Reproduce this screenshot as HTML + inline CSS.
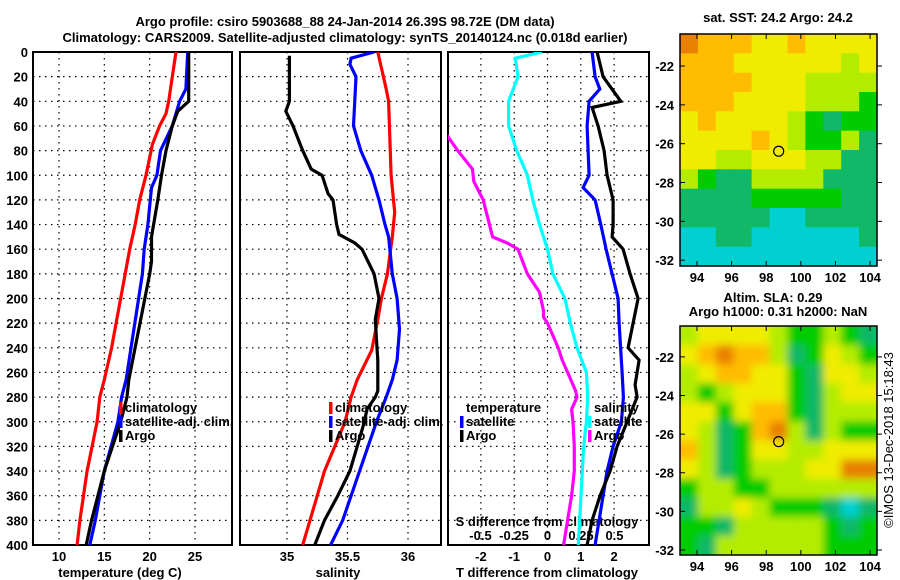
<!DOCTYPE html>
<html><head><meta charset="utf-8"><style>
body{margin:0;background:#fff}
svg{display:block}
text{font-family:"Liberation Sans",sans-serif;font-weight:bold;font-size:13px;fill:#000}
</style></head><body>
<svg id="c" width="900" height="580" xmlns="http://www.w3.org/2000/svg">
<defs>
<clipPath id="cp1"><rect x="33" y="52" width="199" height="493"/></clipPath>
<clipPath id="cp2"><rect x="240" y="52" width="201" height="493"/></clipPath>
<clipPath id="cp3"><rect x="448" y="52" width="201" height="493"/></clipPath>
<clipPath id="cpm2"><rect x="680" y="326" width="197" height="229"/></clipPath>
<filter id="blur"><feGaussianBlur stdDeviation="4"/></filter>
</defs>
<text x="345" y="26" text-anchor="middle" font-size="14">Argo profile: csiro 5903688_88 24-Jan-2014 26.39S 98.72E (DM data)</text>
<text x="345" y="42" text-anchor="middle" font-size="14">Climatology: CARS2009. Satellite-adjusted climatology: synTS_20140124.nc (0.018d earlier)</text>
<text x="778" y="22" text-anchor="middle">sat. SST: 24.2 Argo: 24.2</text>
<text x="773" y="302" text-anchor="middle">Altim. SLA: 0.29</text>
<text x="778" y="316" text-anchor="middle">Argo h1000: 0.31 h2000: NaN</text>
<text transform="translate(893,440) rotate(-90)" text-anchor="middle" font-size="12" style="font-weight:normal">©IMOS 13-Dec-2018 15:18:43</text>
<text x="120" y="577" text-anchor="middle">temperature (deg C)</text>
<text x="338" y="577" text-anchor="middle">salinity</text>
<text x="547" y="577" text-anchor="middle">T difference from climatology</text>
<text x="547" y="526" text-anchor="middle">S difference from climatology</text>
<g id="g"></g>
</svg>
<script>
// ---- data ----
const depthTicks=[0,20,40,60,80,100,120,140,160,180,200,220,240,260,280,300,320,340,360,380,400];
const tTicks=[10,15,20,25];
const sTicks=[35,35.5,36];
const dTTicks=[-2,-1,0,1,2];
const dSTicks=[-0.5,-0.25,0,0.25,0.5];
const dSTickLabels=["-0.5","-0.25","0","0.25","0.5"];
const tClimD=[0,20,40,50,60,75,100,120,140,160,180,220,240,266,280,300,340,380,400];
const tClimV=[22.9,22.5,22.1,21.8,21.1,20.3,19.6,18.9,18.4,17.8,17.3,16.3,15.8,15.0,14.5,14.2,13.1,12.3,12.0];
const tSatD=[0,30,40,60,80,100,110,140,160,180,266,280,300,340,380,400];
const tSatV=[24.2,24.0,23.3,22.5,21.2,20.8,20.2,19.8,19.4,19.2,17.4,16.9,16.5,15.0,14.0,13.4];
const tArgoD=[0,40,48,60,80,100,120,150,170,180,266,280,300,340,380,400];
const tArgoV=[24.3,24.3,23.1,22.5,21.8,21.3,20.9,20.2,20.2,20.0,17.7,17.5,16.8,15.0,13.6,13.0];
const sClimD=[0,30,40,100,130,150,180,200,217,242,266,280,300,340,380,400];
const sClimV=[35.75,35.82,35.84,35.86,35.89,35.87,35.83,35.78,35.75,35.70,35.58,35.53,35.48,35.31,35.19,35.13];
const sSatD=[0,5,10,20,60,80,100,120,140,150,180,200,225,250,266,280,300,340,380,400];
const sSatV=[35.72,35.53,35.52,35.57,35.55,35.61,35.70,35.76,35.81,35.84,35.87,35.91,35.93,35.91,35.87,35.82,35.74,35.60,35.46,35.36];
const sArgoD=[3,40,48,60,80,95,100,115,120,140,148,155,160,180,200,217,234,250,266,275,280,290,300,320,340,360,380,400];
const sArgoV=[35.02,35.02,34.99,35.05,35.13,35.20,35.29,35.34,35.38,35.41,35.43,35.56,35.62,35.72,35.76,35.73,35.74,35.75,35.75,35.75,35.73,35.66,35.64,35.58,35.52,35.42,35.31,35.23];
const dTSatD=[0,20,30,40,60,100,110,120,140,160,180,200,220,260,280,300,320,340,360,380,400];
const dTSatV=[1.34,1.43,1.57,1.25,1.19,1.25,1.07,1.43,1.6,1.76,1.94,2.12,2.15,2.24,2.28,2.22,1.97,1.79,1.67,1.55,1.43];
const dTArgoD=[0,20,40,45,60,80,100,120,140,150,160,180,200,220,240,250,270,280,300,320,340,360,380,400];
const dTArgoV=[1.49,1.67,2.2,1.34,1.52,1.7,1.79,1.97,1.97,1.94,2.27,2.48,2.72,2.57,2.42,2.75,2.63,2.69,2.39,2.09,1.88,1.58,1.34,1.19];
const dSSatD=[0,5,20,40,60,80,100,120,140,160,180,200,220,240,260,280,300,320,340,360,380,400];
const dSSatV=[-0.04,-0.24,-0.22,-0.29,-0.29,-0.23,-0.15,-0.11,-0.06,0,0.04,0.13,0.17,0.22,0.29,0.30,0.29,0.27,0.26,0.25,0.24,0.23];
const dSArgoD=[60,80,95,105,120,150,155,160,180,195,210,215,220,240,250,260,275,280,290,300,320,340,360,380,400];
const dSArgoV=[-0.8,-0.67,-0.56,-0.55,-0.48,-0.41,-0.30,-0.22,-0.15,-0.06,-0.03,-0.03,0,0.08,0.11,0.15,0.21,0.22,0.18,0.19,0.20,0.20,0.18,0.15,0.12];
const sstGrid=[
[6,5,5,5,4,4,5,4,4,4,4],
[5,5,5,4,4,4,4,4,4,3,4],
[5,5,5,5,4,4,4,3,3,3,3],
[5,5,5,4,4,4,4,3,3,3,2],
[4,5,4,4,4,4,3,2,1,2,2],
[4,4,4,4,5,4,3,2,2,3,1],
[4,4,3,3,4,4,4,3,3,1,1],
[3,2,1,1,3,3,3,3,1,1,1],
[1,1,1,1,2,2,2,2,2,1,1],
[1,1,1,1,1,0,0,1,1,1,1],
[0,0,1,1,0,0,0,0,0,0,1],
[0,0,0,0,0,0,0,0,0,0,0]];
const slaGrid=[
[3,4,4,4,4,3,2,2,3,2,1],
[4,5,6,5,5,3,1,2,4,3,2],
[3,4,5,5,4,4,2,1,4,4,3],
[3,2,3,4,4,4,2,1,3,4,4],
[4,4,2,4,5,5,2,1,3,3,3],
[4,3,1,2,5,6,3,1,3,2,2],
[5,3,1,2,4,4,3,3,4,4,4],
[4,3,1,2,3,3,3,4,4,6,6],
[2,3,3,2,2,3,3,3,3,3,3],
[1,3,3,4,3,2,2,2,1,0,1],
[2,2,1,3,3,3,3,3,2,1,2],
[2,1,3,3,3,3,3,3,2,2,2]];
const lonTicks=[94,96,98,100,102,104];
const latTicks=[-22,-24,-26,-28,-30,-32];
const argoLon=98.72, argoLat=-26.39;
// ---- scales ----
const yD=d=>52+d*(493/400);
const xT=v=>59+(v-10)*(136/15);
const xS=v=>287+(v-35)*121;
const xDT=v=>547.5+v*33.3;
const xDS=v=>547.5+v*134;
const colors=["#00d0d0","#10b868","#00cc00","#b4ec00","#f0ec00","#ffbc00","#e88000"];
const NS="http://www.w3.org/2000/svg";
const G=document.getElementById('g');
function mk(tag,attrs,parent){const e=document.createElementNS(NS,tag);for(const k in attrs)e.setAttribute(k,attrs[k]);(parent||G).appendChild(e);return e;}
function txt(x,y,s,anchor,parent){const t=mk('text',{x:x,y:y,'text-anchor':anchor||'middle'},parent);t.textContent=s;return t;}
function panel(x0,x1,name,xs,ticks,labels){
  const p=mk('g',{});
  
  
  depthTicks.forEach(d=>{
    const l=mk('line',{x1:x0,x2:x1,y1:yD(d),y2:yD(d),stroke:'#000','stroke-dasharray':'1.5,4.5','stroke-width':1.2},p);
    
    
  });
  ticks.forEach((v,i)=>{
    const x=xs(v);
    const l=mk('line',{x1:x,x2:x,y1:52,y2:545,stroke:'#000','stroke-dasharray':'1.5,4.5','stroke-width':1.2},p);
    
    
    if(labels){const t=txt(x,561,labels[i],'middle',p);
      
      }
  });
  const r=mk('rect',{x:x0,y:52,width:x1-x0,height:493,fill:'none',stroke:'#000','stroke-width':2},p);
  
  
  return p;
}
function line(D,V,xs,color,clip,name){
  const pts=D.map((d,i)=>xs(V[i]).toFixed(1)+','+yD(d).toFixed(1)).join(' ');
  const l=mk('polyline',{points:pts,fill:'none',stroke:color,'stroke-width':3.2,'clip-path':'url(#'+clip+')'});
  
  
}
panel(33,232,'temperature-panel',xT,tTicks,tTicks.map(String));
panel(240,441,'salinity-panel',xS,sTicks,sTicks.map(String));
panel(448,649,'difference-panel',xDT,dTTicks,dTTicks.map(String));
dSTicks.forEach((v,i)=>{const t=txt(xDS(v),540,dSTickLabels[i]);
  
  });
depthTicks.forEach(d=>{const t=txt(28,yD(d)+5,String(d),'end');
  
  });
line(tClimD,tClimV,xT,'#ff0000','cp1','temperature-climatology-line');
line(tSatD,tSatV,xT,'#0000ff','cp1','temperature-satellite-line');
line(tArgoD,tArgoV,xT,'#000000','cp1','temperature-argo-line');
line(sClimD,sClimV,xS,'#ff0000','cp2','salinity-climatology-line');
line(sSatD,sSatV,xS,'#0000ff','cp2','salinity-satellite-line');
line(sArgoD,sArgoV,xS,'#000000','cp2','salinity-argo-line');
line(dSArgoD,dSArgoV,xDS,'#ff00ff','cp3','s-diff-argo-line');
line(dSSatD,dSSatV,xDS,'#00ffff','cp3','s-diff-satellite-line');
line(dTSatD,dTSatV,xDT,'#0000ff','cp3','t-diff-satellite-line');
line(dTArgoD,dTArgoV,xDT,'#000000','cp3','t-diff-argo-line');
function legend(x,y,items,name){
  const g=mk('g',{});
  
  
  items.forEach((it,i)=>{
    if(it[0]) mk('rect',{x:x,y:y+i*14-10,width:3.5,height:12,fill:it[0]},g);
    txt(x+6,y+i*14,it[1],'start',g);
  });
}
legend(119,412,[['#ff0000','climatology'],['#0000ff','satellite-adj. clim.'],['#000000','Argo']],'temperature-legend');
legend(329,412,[['#ff0000','climatology'],['#0000ff','satellite-adj. clim.'],['#000000','Argo']],'salinity-legend');
legend(460,412,[[null,'temperature'],['#0000ff','satellite'],['#000000','Argo']],'t-diff-legend');
legend(588,412,[[null,'salinity'],['#00ffff','satellite'],['#ff00ff','Argo']],'s-diff-legend');
// ---- maps ----
function map(y0,y1,grid,name,blur){
  const x0=680,x1=877,lonL=93.02,lonR=104.4;
  const latT=y0===34?-20.35:-20.4, latB=y0===34?-32.3:-32.26;
  const mx=v=>x0+(v-lonL)/(lonR-lonL)*(x1-x0);
  const my=v=>y0+(latT-v)/(latT-latB)*(y1-y0);
  const g=mk('g',{});
  
  
  const cells=mk('g',blur?{'clip-path':'url(#cpm2)'}:{},g);
  const inner=blur?mk('g',{filter:'url(#blur)'},cells):cells;
  const nr=grid.length,nc=grid[0].length;
  const pad=blur?12:0;
  for(let r=0;r<nr;r++)for(let c=0;c<nc;c++){
    let cx=x0+c*(x1-x0)/nc, cy=y0+r*(y1-y0)/nr, w=(x1-x0)/nc, h=(y1-y0)/nr;
    if(blur){if(c===0){cx-=pad;w+=pad;} if(c===nc-1)w+=pad; if(r===0){cy-=pad;h+=pad;} if(r===nr-1)h+=pad;}
    const e=mk('rect',{x:cx.toFixed(1),y:cy.toFixed(1),width:(w+0.6).toFixed(1),height:(h+0.6).toFixed(1),fill:colors[grid[r][c]]},inner);
    
    
  }
  mk('rect',{x:x0,y:y0,width:x1-x0,height:y1-y0,fill:'none',stroke:'#000','stroke-width':1.5},g);
  lonTicks.forEach(v=>{const x=mx(v);
    mk('line',{x1:x,x2:x,y1:y1,y2:y1-5,stroke:'#000'},g);
    mk('line',{x1:x,x2:x,y1:y0,y2:y0+5,stroke:'#000'},g);
    const t=txt(x,y1+16,String(v),'middle',g);
    
    });
  latTicks.forEach(v=>{const y=my(v);
    mk('line',{x1:x0,x2:x0+5,y1:y,y2:y,stroke:'#000'},g);
    mk('line',{x1:x1,x2:x1+5,y1:y,y2:y,stroke:'#000'},g);
    const t=txt(x0-6,y+5,String(v),'end',g);
    
    });
  const m=mk('circle',{cx:mx(argoLon),cy:my(argoLat),r:5,fill:'none',stroke:'#000','stroke-width':1.2},g);
  
  
}
map(34,266,sstGrid,'sst-map',false);
map(326,555,slaGrid,'sla-map',true);
</script>
</body></html>
